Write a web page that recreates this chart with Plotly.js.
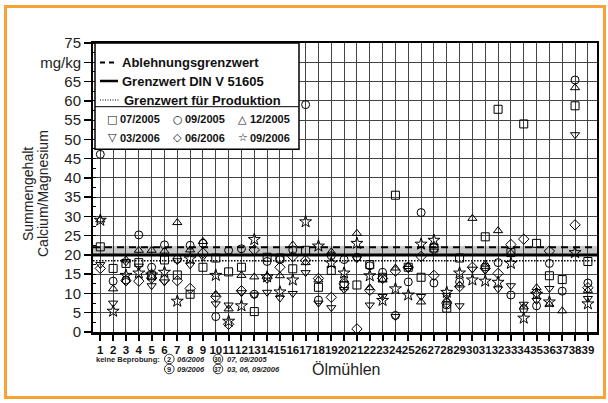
<!DOCTYPE html>
<html><head><meta charset="utf-8">
<script src="https://cdn.plot.ly/plotly-3.0.1.min.js"></script>
<style>
html,body{margin:0;padding:0;background:#fff;}
#wrap{position:relative;width:608px;height:403px;overflow:hidden;}
#chart{position:absolute;left:0;top:0;width:608px;height:403px;}
#frame{position:absolute;left:4px;top:5px;width:596px;height:388px;border:3px solid #F7A234;pointer-events:none;}
</style></head><body>
<div id="wrap"><div id="chart"></div><div id="frame"></div></div>
<script>
// ---- data ----
const mills = [1,2,3,4,5,6,7,8,9,10,11,12,13,14,15,16,17,18,19,20,21,22,23,24,25,26,27,28,29,30,31,32,33,34,35,36,37,38,39];
const millLabels = ["1","2","3","4","5","6","7","8","9","10","11","12","13","14","15","16","17","18","19","20","21","22","23","24","25","26","27","28","29","30","31","32","33","34","35","36","37","38","39"];
const yTickVals = [0,5,10,15,20,25,30,35,40,45,50,55,60,65,70,75];
const yTickText = ["0","5","10","15","20","25","30","35","40","45","50","55","60","65","mg/kg","75"];

const s07_2005 = [22.1,16.5,17.8,18.0,14.6,18.7,14.8,9.8,16.8,19.2,15.6,16.8,5.3,19.4,19.2,16.4,21.2,11.6,16.0,12.0,12.2,17.5,14.2,35.5,16.8,14.2,21.8,6.2,19.2,null,24.7,57.8,20.6,54.0,23.0,14.6,13.6,58.7,18.3];
const s09_2005 = [46.1,13.2,13.5,25.2,16.8,22.6,18.9,22.5,23.0,4.0,21.2,21.6,9.8,18.3,18.8,21.3,59.0,8.3,19.8,18.8,19.4,17.2,15.5,4.3,13.0,31.0,12.7,7.0,13.0,null,16.9,18.0,9.6,6.0,6.8,17.8,10.6,65.4,12.7];
const s12_2005 = [29.1,11.2,18.7,21.2,21.2,21.0,28.4,21.3,23.5,9.8,6.0,14.7,14.3,14.5,14.6,22.6,18.0,13.5,20.8,13.5,25.6,11.5,13.5,16.6,17.0,7.8,22.5,8.3,12.2,29.5,17.6,26.3,20.5,6.5,11.5,7.2,5.5,63.4,10.8];
const s03_2006 = [17.5,7.5,18.2,17.1,12.0,13.0,18.5,17.4,19.5,7.3,7.0,10.2,9.6,10.3,8.8,10.0,15.4,7.5,6.3,11.0,19.0,7.0,9.2,4.0,16.5,9.2,21.0,9.5,6.8,16.3,16.0,11.2,12.0,7.2,8.2,11.3,null,51.2,8.7];
const s06_2006 = [16.5,null,13.3,13.2,14.0,13.5,13.3,11.3,20.5,9.2,2.0,10.7,21.3,14.0,16.8,19.6,18.6,13.9,9.0,12.5,0.8,10.8,13.9,15.8,16.8,19.6,14.7,7.5,11.8,16.8,16.5,15.2,22.7,24.1,10.2,21.0,null,27.8,11.5];
const s09_2006 = [29.0,5.4,14.7,15.3,14.8,15.5,8.0,19.0,null,14.7,2.8,6.8,24.0,14.3,10.4,13.5,28.6,22.3,17.9,15.3,23.0,14.6,8.2,11.2,9.6,22.8,23.8,10.3,15.3,13.5,13.2,12.9,17.8,3.6,9.8,7.8,null,20.6,7.3];

const seriesNames = ["07/2005","09/2005","12/2005","03/2006","06/2006","09/2006"];
const seriesSymbolText = ["\u25A1","\u25CB","\u25B3","\u25BD","\u25C7","\u2606"];

const limitNames = ["Ablehnungsgrenzwert","Grenzwert DIN V 51605","Grenzwert f\u00fcr Produktion"];
const limitValues = [22, 20, 18.5];
const bandRange = [20, 22.3];

const missingMills = ["2","9","30","37"];
const missingDates = ["06/2006","09/2006","07, 09/2005","03, 06, 09/2006"];

// ---- build ----
const xr = [0.43, 39.71];
const seriesData = [s07_2005,s09_2005,s12_2005,s03_2006,s06_2006,s09_2006];
const symbols = ["square-open","circle-open","triangle-up-open","triangle-down-open","diamond-open","star-open"];
const sizes = [8,8,8,8,8,9];

const traces = [];
traces.push({x:[xr[0],xr[1],xr[1],xr[0]], y:[bandRange[0],bandRange[0],bandRange[1],bandRange[1]],
  mode:"lines", fill:"toself", fillcolor:"rgba(0,0,0,0.22)", line:{width:0}, hoverinfo:"skip", showlegend:false});
const limStyles = [{dash:"7px,5px",width:2},{dash:"solid",width:3},{dash:"1.5px,1.5px",width:1.5}];
limitValues.forEach((v,i)=>{
  traces.push({x:xr, y:[v,v], mode:"lines", name:limitNames[i], line:{color:"#000",width:limStyles[i].width,dash:limStyles[i].dash}, showlegend:false, hoverinfo:"skip"});
});
seriesData.forEach((d,i)=>{
  traces.push({x:mills, y:d, mode:"markers", name:seriesNames[i], showlegend:false,
    marker:{symbol:symbols[i], size:sizes[i], color:"#000", line:{color:"#000",width:1}}, cliponaxis:true});
});

const L=93, R=597, T=43, B=332, W=R-L, H=B-T;
const px = x => (x-L)/W;
const py = y => (B-y)/H;
const FF = "Liberation Sans, Arial, sans-serif";

const shapes = [
  {type:"rect", xref:"paper", yref:"paper", x0:px(95), x1:px(299), y0:py(149.3), y1:py(43), fillcolor:"#fff", line:{color:"#000",width:1.5}, layer:"above"},
  {type:"line", xref:"paper", yref:"paper", x0:px(95), x1:px(299), y0:py(106.7), y1:py(106.7), line:{color:"#000",width:1}, layer:"above"},
  {type:"line", xref:"paper", yref:"paper", x0:px(100), x1:px(118), y0:py(62.5), y1:py(62.5), line:{color:"#000",width:2,dash:"5px,4px"}, layer:"above"},
  {type:"line", xref:"paper", yref:"paper", x0:px(100), x1:px(118), y0:py(81), y1:py(81), line:{color:"#000",width:2.5}, layer:"above"},
  {type:"line", xref:"paper", yref:"paper", x0:px(100), x1:px(120), y0:py(100), y1:py(100), line:{color:"#000",width:1,dash:"1px,1.5px"}, layer:"above"}
];

const ann = [];
const A = o => Object.assign({xref:"paper",yref:"paper",showarrow:false,borderpad:0}, o);
const ly = [62.3, 81, 100], lx = [120.5, 120.5, 123];
limitNames.forEach((n,i)=>ann.push(A({x:px(lx[i]),y:py(ly[i]),xanchor:"left",yanchor:"middle",
  text:"<b>"+n+"</b>", font:{family:FF,size:13,color:"#111"}})));
const mx = [112.3,177.7,242.7], tx=[118.5,183.5,248.5], my=[119.3,137.7];
seriesNames.forEach((n,i)=>{
  const c=i%3, r=Math.floor(i/3);
  ann.push(A({x:px(mx[c]),y:py(my[r]),xanchor:"center",yanchor:"middle",
    text:seriesSymbolText[i], font:{family:"DejaVu Sans",size:11,color:"#111"}}));
  ann.push(A({x:px(tx[c]),y:py(my[r]),xanchor:"left",yanchor:"middle",
    text:"<b>"+n+"</b>", font:{family:FF,size:11,color:"#111"}}));
});
ann.push(A({x:px(28),y:py(194),xanchor:"center",yanchor:"middle",textangle:-90,
  text:"Summengehalt", font:{family:FF,size:14,color:"#222"}}));
ann.push(A({x:px(43),y:py(194),xanchor:"center",yanchor:"middle",textangle:-90,
  text:"Calcium/Magnesium", font:{family:FF,size:14,color:"#222"}}));
ann.push(A({x:px(346),y:py(369),xanchor:"center",yanchor:"middle",
  text:"\u00d6lm\u00fchlen", font:{family:FF,size:16,color:"#222"}}));
ann.push(A({x:px(95),y:py(359.5),xanchor:"left",yanchor:"middle",
  text:"<b>keine Beprobung:</b>", font:{family:FF,size:7.5,color:"#222"}}));
const cx=[169.3,169.3,218,218], cy=[359,369,359,369], ctx=[176,176,225.5,225.5];
missingMills.forEach((m,i)=>{
  shapes.push({type:"circle", xref:"paper", yref:"paper", x0:px(cx[i]-4.8), x1:px(cx[i]+4.8), y0:py(cy[i]+4.8), y1:py(cy[i]-4.8), line:{color:"#222",width:0.9}});
  ann.push(A({x:px(cx[i]),y:py(cy[i]),xanchor:"center",yanchor:"middle",
    text:"<b>"+m+"</b>", font:{family:FF,size:m.length>1?6.5:7.5,color:"#222"}}));
  ann.push(A({x:px(ctx[i]),y:py(cy[i]),xanchor:"left",yanchor:"middle",
    text:"<b><i>"+missingDates[i]+"</i></b>", font:{family:FF,size:7.5,color:"#222"}}));
});

const layout = {
  width:608, height:403, margin:{l:L, r:608-R, t:T, b:403-B}, paper_bgcolor:"#fff", plot_bgcolor:"#fff",
  showlegend:false, hovermode:false,
  xaxis:{range:xr, tickmode:"array", tickvals:mills, ticktext:millLabels, tickangle:0,
    tickfont:{family:FF,size:11.5,color:"#111",weight:"bold"},
    showgrid:true, gridcolor:"#444", gridwidth:1, ticks:"outside", ticklen:6, tickwidth:2, tickcolor:"#000",
    showline:true, linecolor:"#000", linewidth:2.5, mirror:true, zeroline:false},
  yaxis:{range:[0,75], tickmode:"array", tickvals:yTickVals, ticktext:yTickText,
    tickfont:{family:FF,size:15,color:"#222"},
    showgrid:true, gridcolor:"#444", gridwidth:1, ticks:"outside", ticklen:7, tickwidth:1.5, tickcolor:"#000",
    showline:true, linecolor:"#000", linewidth:2, mirror:true, zeroline:false,
    minor:{tickmode:"linear", dtick:2.5, ticks:"inside", ticklen:3, tickwidth:1, tickcolor:"#000", showgrid:false}},
  shapes:shapes, annotations:ann
};
Plotly.newPlot("chart", traces, layout, {staticPlot:true, displayModeBar:false});
</script>
</body></html>
